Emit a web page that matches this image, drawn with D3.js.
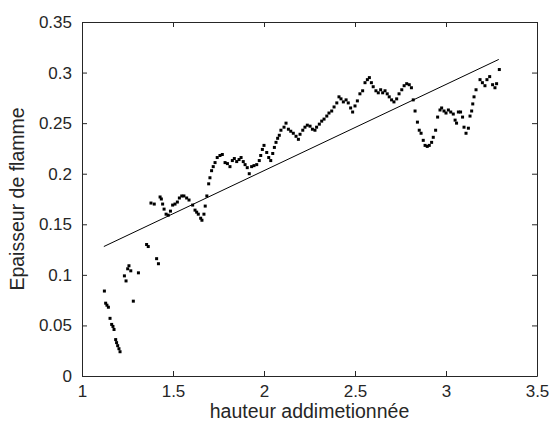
<!DOCTYPE html>
<html>
<head>
<meta charset="utf-8">
<script src="https://cdn.jsdelivr.net/npm/d3@7"></script>
<style>
  body { margin: 0; background: #fff; }
  text { font-family: "Liberation Sans", Arial, sans-serif; fill: #262626; }
</style>
</head>
<body>
<div id="chart"></div>
<script>
// hauteur addimetionnée (x) / epaisseur de flamme (y)
var hauteur = [1.123,1.130,1.137,1.145,1.154,1.163,1.170,1.176,1.185,1.190,1.196,1.203,1.209,1.233,1.242,1.251,1.258,1.268,1.282,1.310,
  1.355,1.364,1.379,1.397,1.410,1.420,1.429,1.436,1.443,1.451,1.462,1.474,1.486,1.498,1.511,1.524,1.535,1.548,1.560,1.575,
  1.588,1.608,1.621,1.630,1.639,1.652,1.659,1.670,1.677,1.686,1.696,1.703,1.712,1.721,1.731,1.743,1.758,1.771,1.786,1.799,
  1.813,1.826,1.837,1.850,1.863,1.874,1.886,1.896,1.908,1.919,1.932,1.945,1.960,1.974,1.982,1.991,2.000,2.015,2.026,2.037,
  2.048,2.057,2.066,2.075,2.084,2.093,2.110,2.121,2.134,2.147,2.161,2.176,2.189,2.198,2.213,2.225,2.238,2.253,2.266,2.280,
  2.289,2.304,2.317,2.330,2.345,2.357,2.372,2.385,2.400,2.412,2.423,2.436,2.451,2.463,2.476,2.487,2.500,2.513,2.527,2.542,
  2.555,2.568,2.579,2.590,2.600,2.615,2.628,2.641,2.652,2.665,2.677,2.688,2.701,2.714,2.729,2.742,2.757,2.770,2.784,2.798,
  2.810,2.820,2.830,2.843,2.853,2.863,2.875,2.885,2.897,2.908,2.921,2.930,2.943,2.954,2.967,2.976,2.989,3.000,3.013,3.026,
  3.040,3.050,3.058,3.068,3.080,3.091,3.099,3.110,3.123,3.132,3.141,3.147,3.154,3.165,3.187,3.200,3.214,3.225,3.240,3.256,
  3.269,3.278,3.293];
var epaisseur = [0.084,0.072,0.070,0.068,0.057,0.051,0.049,0.046,0.036,0.033,0.030,0.027,0.024,0.099,0.094,0.106,0.109,0.104,0.074,0.102,
  0.130,0.128,0.171,0.170,0.116,0.111,0.177,0.175,0.170,0.165,0.160,0.159,0.163,0.169,0.170,0.172,0.176,0.178,0.178,0.176,
  0.174,0.169,0.164,0.162,0.160,0.156,0.154,0.160,0.168,0.178,0.190,0.196,0.203,0.207,0.211,0.216,0.218,0.219,0.211,0.210,
  0.207,0.213,0.215,0.212,0.214,0.216,0.212,0.209,0.206,0.200,0.207,0.208,0.209,0.213,0.218,0.224,0.228,0.221,0.216,0.213,
  0.220,0.226,0.231,0.235,0.238,0.243,0.246,0.250,0.244,0.242,0.240,0.237,0.234,0.239,0.243,0.246,0.248,0.247,0.244,0.243,
  0.246,0.249,0.252,0.254,0.257,0.260,0.262,0.266,0.270,0.276,0.274,0.271,0.273,0.270,0.265,0.261,0.267,0.272,0.279,0.282,
  0.290,0.293,0.295,0.290,0.286,0.282,0.280,0.283,0.280,0.282,0.279,0.276,0.273,0.271,0.274,0.279,0.283,0.287,0.289,0.288,
  0.285,0.273,0.262,0.251,0.243,0.240,0.233,0.228,0.227,0.228,0.231,0.236,0.243,0.256,0.263,0.265,0.262,0.260,0.263,0.261,
  0.259,0.253,0.250,0.261,0.261,0.256,0.246,0.240,0.245,0.257,0.262,0.269,0.276,0.283,0.293,0.290,0.287,0.293,0.296,0.288,
  0.285,0.289,0.303];

// droite de régression (extrémités)
var fitX = [1.12, 3.29];
var fitY = [0.128, 0.313];

var xTicks = [1, 1.5, 2, 2.5, 3, 3.5];
var yTicks = [0, 0.05, 0.1, 0.15, 0.2, 0.25, 0.3, 0.35];

var width = 556, height = 428;
var margin = { top: 22, right: 19, bottom: 52, left: 82 };
var w = width - margin.left - margin.right;
var h = height - margin.top - margin.bottom;
var axisColor = "#262626";

var svg = d3.select("#chart").append("svg")
    .attr("width", width)
    .attr("height", height);

var g = svg.append("g")
    .attr("transform", "translate(" + margin.left + "," + margin.top + ")");

var x = d3.scaleLinear().domain([1, 3.5]).range([0, w]);
var y = d3.scaleLinear().domain([0, 0.35]).range([h, 0]);

var tickLen = 5;
var fmt = d => String(d);

// axes with inward ticks, MATLAB-like box
var bottomAxis = g.append("g")
    .attr("transform", "translate(0," + h + ")")
    .call(d3.axisBottom(x).tickValues(xTicks).tickFormat(fmt).tickSizeInner(-tickLen).tickSizeOuter(0).tickPadding(9));
var topAxis = g.append("g")
    .call(d3.axisTop(x).tickValues(xTicks).tickFormat("").tickSizeInner(-tickLen).tickSizeOuter(0));
var leftAxis = g.append("g")
    .call(d3.axisLeft(y).tickValues(yTicks).tickFormat(fmt).tickSizeInner(-tickLen).tickSizeOuter(0).tickPadding(10));
var rightAxis = g.append("g")
    .attr("transform", "translate(" + w + ",0)")
    .call(d3.axisRight(y).tickValues(yTicks).tickFormat("").tickSizeInner(-tickLen).tickSizeOuter(0));

[bottomAxis, topAxis, leftAxis, rightAxis].forEach(function(a) {
  a.select(".domain").attr("stroke", axisColor).attr("stroke-width", 1);
  a.selectAll(".tick line").attr("stroke", axisColor);
  a.selectAll(".tick text")
    .attr("fill", axisColor)
    .style("font-family", "'Liberation Sans', Arial, sans-serif")
    .style("font-size", "17px");
});

// fit line
g.append("line")
    .attr("x1", x(fitX[0])).attr("y1", y(fitY[0]))
    .attr("x2", x(fitX[1])).attr("y2", y(fitY[1]))
    .attr("stroke", "#000")
    .attr("stroke-width", 1);

// points
var pts = hauteur.map((d, i) => ({ x: d, y: epaisseur[i] }));
g.selectAll("rect.pt")
    .data(pts)
    .enter()
    .append("rect")
    .attr("class", "pt")
    .attr("x", d => x(d.x) - 1.5)
    .attr("y", d => y(d.y) - 1.5)
    .attr("width", 3)
    .attr("height", 3)
    .attr("fill", "#000");

// axis labels
svg.append("text")
    .attr("x", margin.left + w / 2)
    .attr("y", 418)
    .attr("text-anchor", "middle")
    .style("font-size", "19.5px")
    .text("hauteur addimetionnée");

svg.append("text")
    .attr("transform", "translate(24," + (margin.top + h / 2) + ") rotate(-90)")
    .attr("text-anchor", "middle")
    .style("font-size", "19.5px")
    .text("Epaisseur de flamme");
</script>
</body>
</html>
